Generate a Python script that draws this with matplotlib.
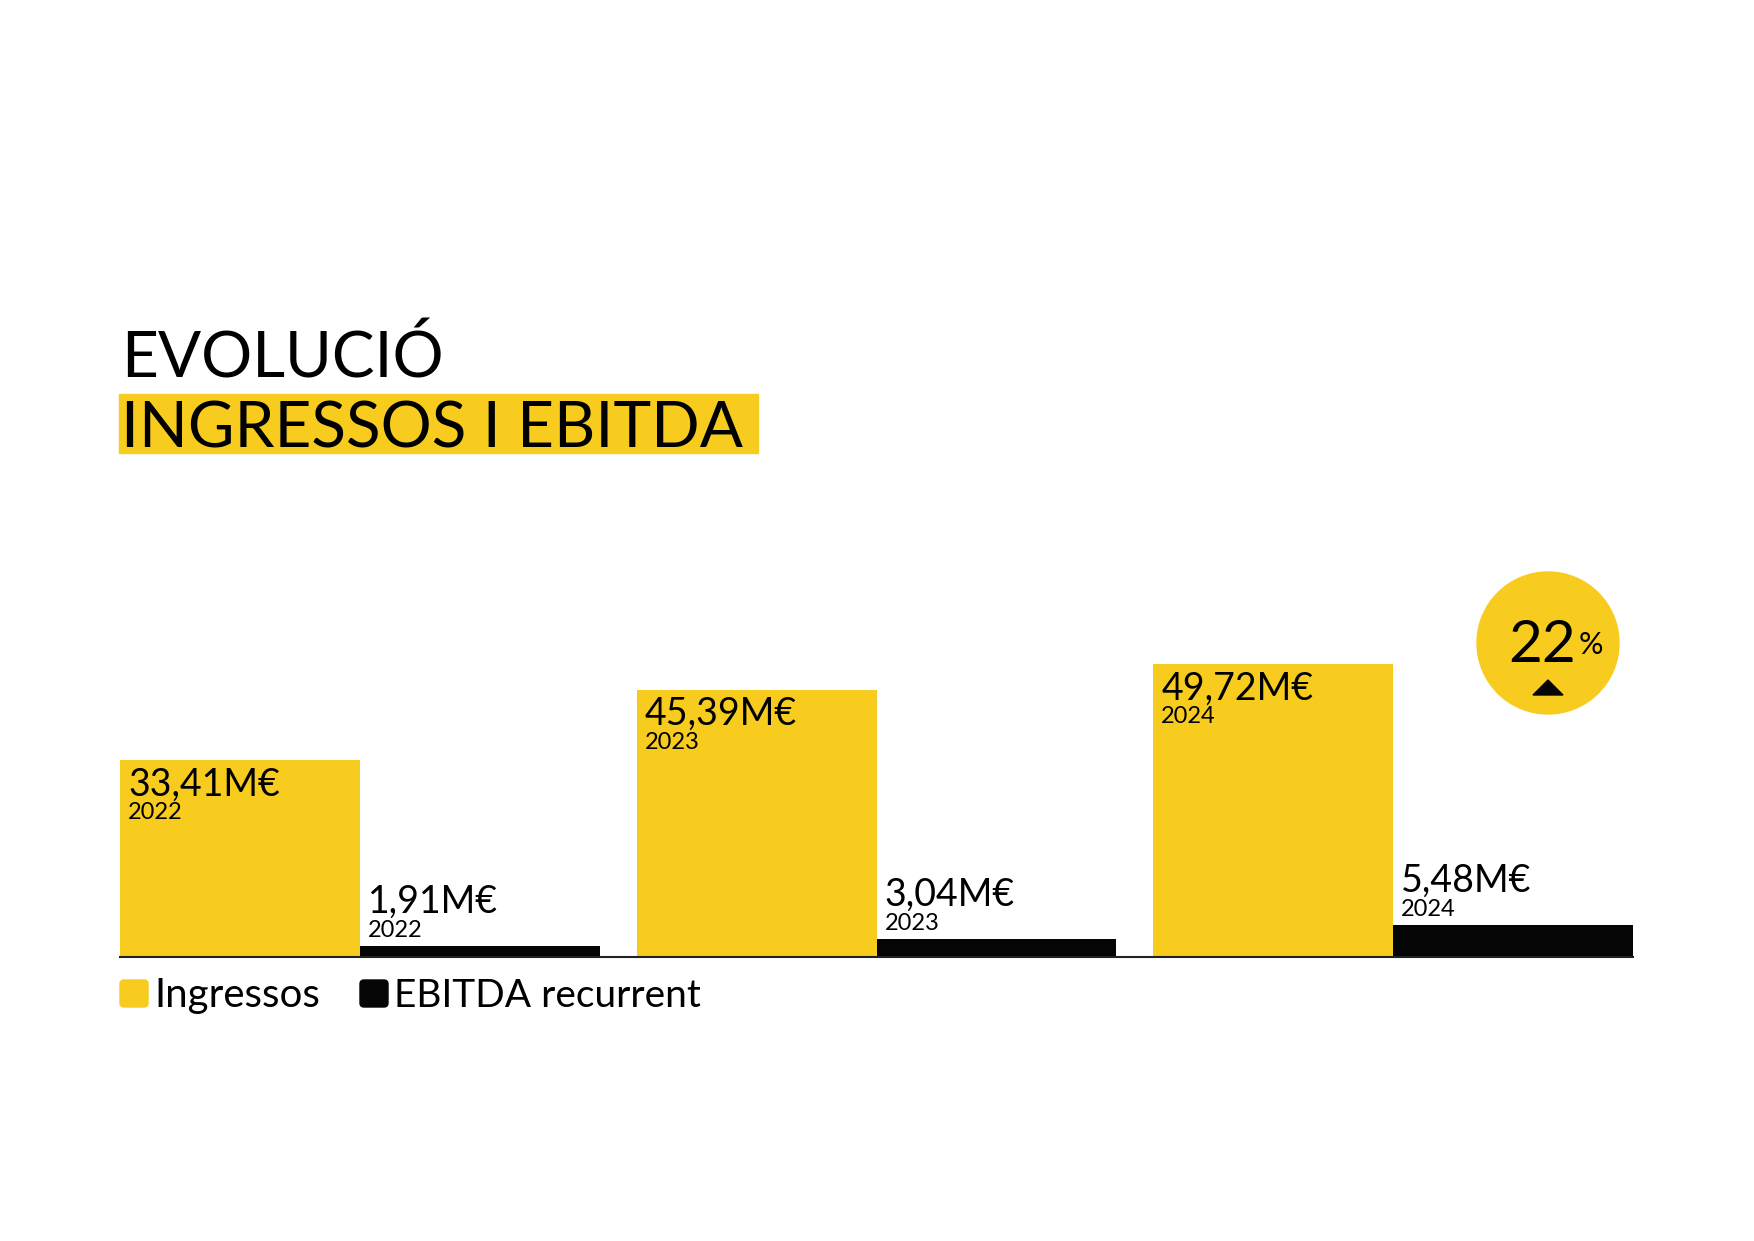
import matplotlib.pyplot as plt
from matplotlib.patches import Circle, Polygon, Rectangle, FancyBboxPatch

anys = ['2022', '2023', '2024']
ingressos = [33.41, 45.39, 49.72]
ebitda = [1.91, 3.04, 5.48]
etiq_ingressos = ['33,41M€', '45,39M€', '49,72M€']
etiq_ebitda = ['1,91M€', '3,04M€', '5,48M€']
creixement = '22'

groc = '#F7CC1F'
negre = '#050505'

plt.rcParams['font.family'] = ['Lato', 'DejaVu Sans']

W, H = 1754, 1241
fig = plt.figure(figsize=(W / 100, H / 100), dpi=100)
px = 0.72  # punts per pixel a 100 dpi

# barres
amp = 240 / 517
x = list(range(len(anys)))
ax = fig.add_axes([120 / W, (H - 957) / H, 1513 / W, 353 / H])
ax.set_xlim(0, 2 + 2 * amp)
ax.set_ylim(0, 60)
ax.bar(x, ingressos, width=amp, align='edge', color=groc, zorder=2)
ax.bar([i + amp for i in x], ebitda, width=amp, align='edge', color=negre, zorder=2)

for i in x:
    ax.annotate(etiq_ingressos[i], xy=(i, ingressos[i]), xytext=(8 * px, -35 * px),
                textcoords='offset points', va='baseline', ha='left', fontsize=27)
    ax.annotate(anys[i], xy=(i, ingressos[i]), xytext=(8 * px, -59 * px),
                textcoords='offset points', va='baseline', ha='left', fontsize=17)
    ax.annotate(etiq_ebitda[i], xy=(i + amp, ebitda[i]), xytext=(8 * px, 33 * px),
                textcoords='offset points', va='baseline', ha='left', fontsize=27)
    ax.annotate(anys[i], xy=(i + amp, ebitda[i]), xytext=(8 * px, 9 * px),
                textcoords='offset points', va='baseline', ha='left', fontsize=17)

for s in ['top', 'left', 'right']:
    ax.spines[s].set_visible(False)
ax.spines['bottom'].set_color('#222222')
ax.spines['bottom'].set_linewidth(1.5)
ax.set_xticks([])
ax.set_yticks([])
ax.patch.set_visible(False)

# capa de decoracio en pixels
ov = fig.add_axes([0, 0, 1, 1], zorder=-1)
ov.set_xlim(0, W)
ov.set_ylim(H, 0)
ov.axis('off')
ov.patch.set_visible(False)

ov.add_patch(Rectangle((119, 394), 639, 59, color=groc))
ov.text(121, 378, 'EVOLUCIÓ', fontsize=46, va='baseline', ha='left')
ov.text(121, 448, 'INGRESSOS I EBITDA', fontsize=46, va='baseline', ha='left')

ov.add_patch(Circle((1548, 643), 71, color=groc))
ov.text(1508, 662, creixement, fontsize=42, va='baseline', ha='left')
ov.text(1579, 654, '%', fontsize=22, va='baseline', ha='left')
ov.add_patch(Polygon([(1533, 695), (1563, 695), (1548, 680)], color=negre))

# llegenda
ov.add_patch(FancyBboxPatch((122, 982), 24, 23, boxstyle='round,pad=2,rounding_size=4', color=groc))
ov.text(154, 1007, 'Ingressos', fontsize=29, va='baseline', ha='left')
ov.add_patch(FancyBboxPatch((362, 982), 24, 23, boxstyle='round,pad=2,rounding_size=4', color=negre))
ov.text(394, 1007, 'EBITDA recurrent', fontsize=28, va='baseline', ha='left')

fig.savefig('out.png', dpi=100, facecolor='white')
